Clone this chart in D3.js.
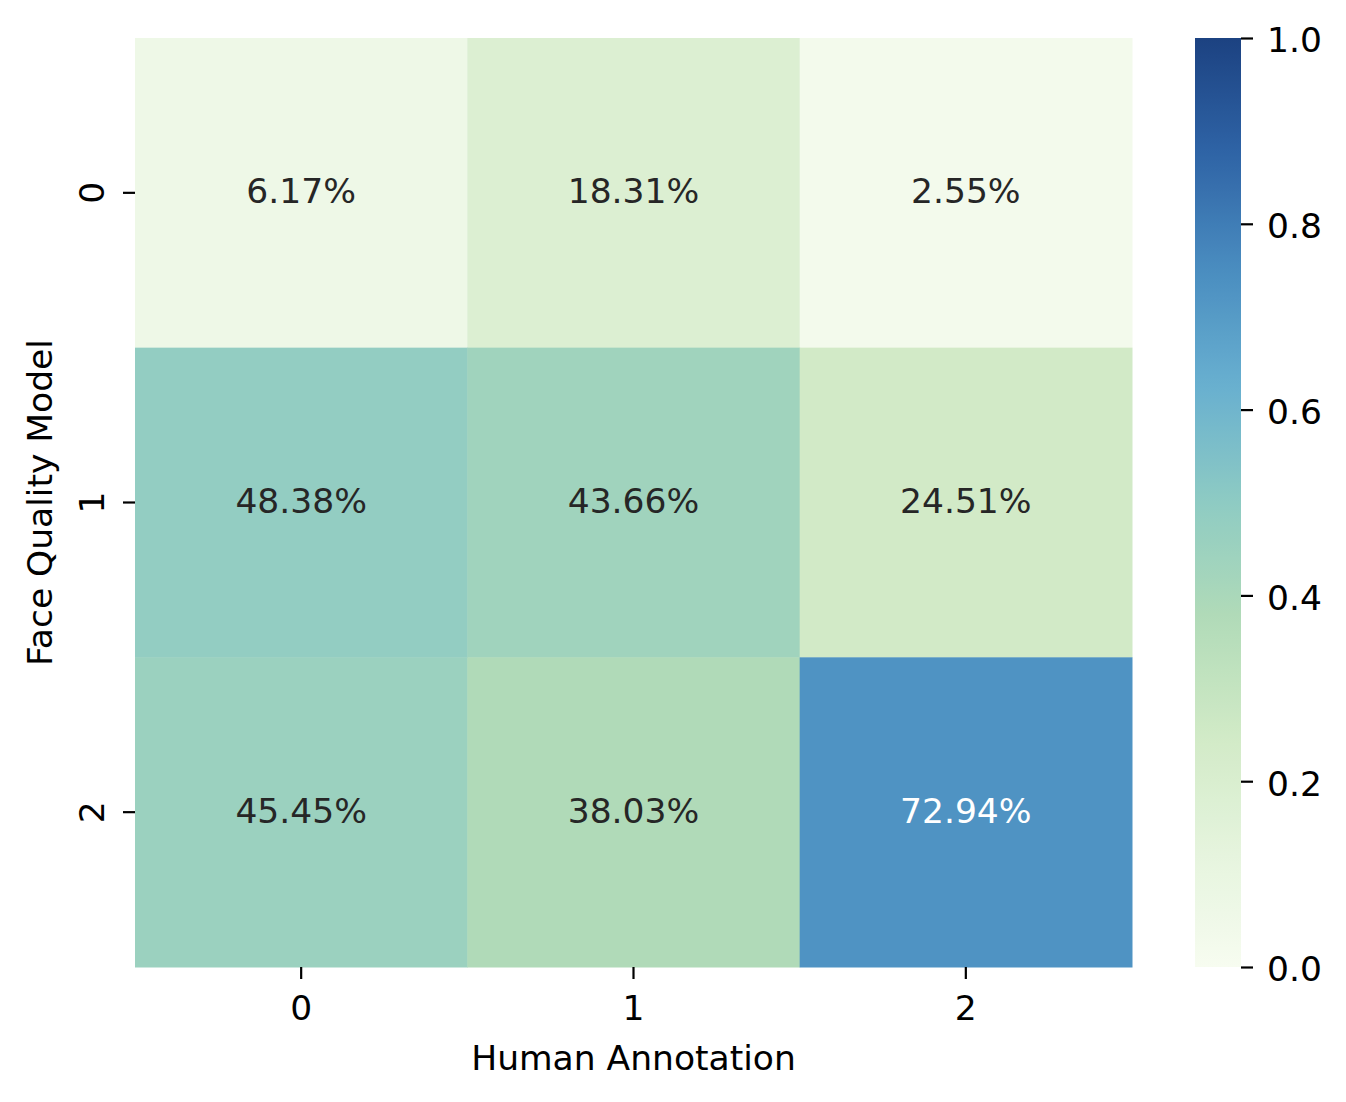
<html>
<head>
<script src="https://d3js.org/d3.v7.min.js"></script>
<style>
  body { margin: 0; background: #fff; }
  text { font-family: "DejaVu Sans", sans-serif; }
</style>
</head>
<body>
<div id="chart"></div>
<script>
// categories and values
const humanLabels = ["0", "1", "2"];   // columns (x)
const modelLabels = ["0", "1", "2"];   // rows (y)
const matrix = [
  [0.0617, 0.1831, 0.0255],
  [0.4838, 0.4366, 0.2451],
  [0.4545, 0.3803, 0.7294]
];
const cbarTicks = [0.0, 0.2, 0.4, 0.6, 0.8, 1.0];

const width = 1346, height = 1102;
const hm = {left: 135, right: 1132, top: 38, bottom: 967};
const cb = {left: 1195, right: 1241};
const fs = 34.5;

const svg = d3.select("#chart").append("svg")
  .attr("width", width).attr("height", height);

// GnBu-like colormap as it appears in the picture
const cmap = d3.scaleLinear()
  .domain([0, 0.125, 0.25, 0.375, 0.5, 0.625, 0.75, 0.875, 1])
  .range(["#f7fcf0", "#e5f4dd", "#d1eac6", "#b1dbb8", "#8ecbc3", "#69b0d0", "#4a8dc0", "#2f64a6", "#1c4281"])
  .interpolate(d3.interpolateRgb)
  .clamp(true);

const x = d3.scaleBand().domain(humanLabels).range([hm.left, hm.right]);
const y = d3.scaleBand().domain(modelLabels).range([hm.top, hm.bottom]);

const cells = [];
matrix.forEach((row, i) => row.forEach((v, j) => cells.push({r: modelLabels[i], c: humanLabels[j], v})));

svg.append("g").selectAll("rect").data(cells).join("rect")
  .attr("x", d => x(d.c))
  .attr("y", d => y(d.r))
  .attr("width", x.bandwidth() + 0.5)
  .attr("height", y.bandwidth() + 0.5)
  .attr("fill", d => cmap(d.v));

svg.append("g").selectAll("text").data(cells).join("text")
  .attr("x", d => x(d.c) + x.bandwidth() / 2)
  .attr("y", d => y(d.r) + y.bandwidth() / 2 - 1.5)
  .attr("text-anchor", "middle")
  .attr("dominant-baseline", "central")
  .attr("font-size", fs)
  .attr("fill", d => d.v > 0.6 ? "#ffffff" : "#262626")
  .text(d => (d.v * 100).toFixed(2) + "%");

// x axis
const xAxis = svg.append("g")
  .attr("transform", `translate(0, ${hm.bottom})`)
  .call(d3.axisBottom(x).tickSize(12).tickPadding(17));
xAxis.select(".domain").remove();
xAxis.selectAll(".tick line").attr("stroke", "#000").attr("stroke-width", 2.2);
xAxis.selectAll(".tick text").attr("font-size", fs).attr("fill", "#000")
  .attr("font-family", "DejaVu Sans");

// y axis, labels rotated
const yAxis = svg.append("g")
  .attr("transform", `translate(${hm.left}, 0)`)
  .call(d3.axisLeft(y).tickSize(12).tickPadding(10));
yAxis.select(".domain").remove();
yAxis.selectAll(".tick line").attr("stroke", "#000").attr("stroke-width", 2.2);
yAxis.selectAll(".tick text").attr("font-size", fs).attr("fill", "#000")
  .attr("font-family", "DejaVu Sans")
  .attr("x", null).attr("dy", null)
  .attr("text-anchor", "middle")
  .attr("dominant-baseline", "central")
  .attr("transform", "translate(-43, 0) rotate(-90)");

// axis titles
svg.append("text")
  .attr("x", (hm.left + hm.right) / 2).attr("y", 1058)
  .attr("text-anchor", "middle").attr("dominant-baseline", "central")
  .attr("font-size", fs).attr("fill", "#000")
  .text("Human Annotation");

svg.append("text")
  .attr("transform", `translate(40, ${(hm.top + hm.bottom) / 2}) rotate(-90)`)
  .attr("text-anchor", "middle").attr("dominant-baseline", "central")
  .attr("font-size", fs).attr("fill", "#000")
  .text("Face Quality Model");

// colorbar
const cy = d3.scaleLinear().domain([0, 1]).range([hm.bottom, hm.top]);
const defs = svg.append("defs");
const grad = defs.append("linearGradient")
  .attr("id", "cbar").attr("x1", 0).attr("y1", 1).attr("x2", 0).attr("y2", 0);
grad.selectAll("stop").data(d3.range(0, 1.0001, 0.02)).join("stop")
  .attr("offset", d => (d * 100) + "%")
  .attr("stop-color", d => cmap(d));
svg.append("rect")
  .attr("x", cb.left).attr("y", hm.top)
  .attr("width", cb.right - cb.left).attr("height", hm.bottom - hm.top)
  .attr("fill", "url(#cbar)");

const cAxis = svg.append("g")
  .attr("transform", `translate(${cb.right}, 0)`)
  .call(d3.axisRight(cy).tickValues(cbarTicks).tickFormat(d3.format(".1f")).tickSize(12).tickPadding(14));
cAxis.select(".domain").remove();
cAxis.selectAll(".tick line").attr("stroke", "#000").attr("stroke-width", 2.2);
cAxis.selectAll(".tick text").attr("font-size", fs).attr("fill", "#000")
  .attr("font-family", "DejaVu Sans")
  .attr("dy", "0.4em");
</script>
</body>
</html>
